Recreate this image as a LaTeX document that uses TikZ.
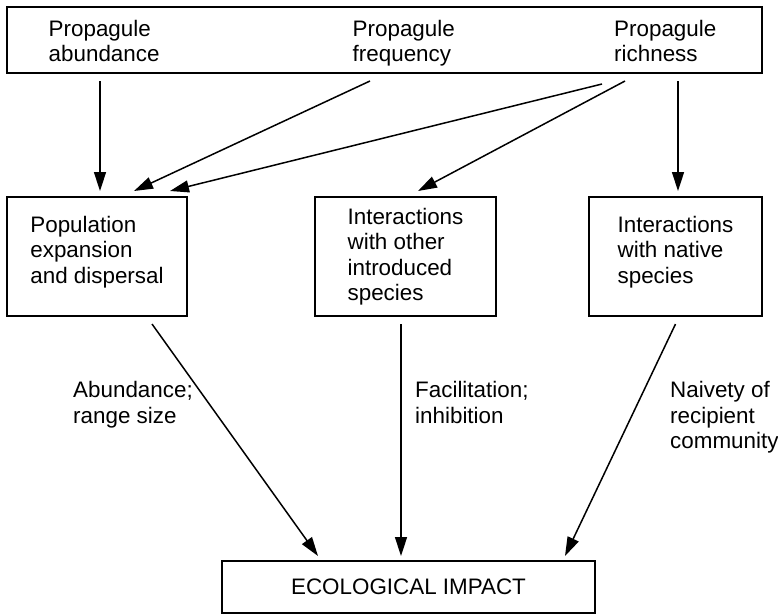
\documentclass[tikz,border=0pt]{standalone}
\usepackage{fontspec}
\setmainfont{Liberation Sans}
\usetikzlibrary{arrows.meta, positioning}

\begin{document}
\begin{tikzpicture}[
  x=1pt, y=-1pt,
  every node/.style={font=\fontsize{22.4}{25.5}\selectfont},
  box/.style={rectangle, draw, line width=2pt, align=left, inner sep=0pt},
  lbl/.style={align=left, inner sep=0pt, anchor=north west},
  arrow/.style={-{Triangle[length=19pt,width=12pt]}, line width=1.5pt},
]
  \useasboundingbox (0,0) rectangle (778,614);

  % propagule pressure box
  \node[box, minimum width=755pt, minimum height=66pt] (prop) at (384.5,40) {};
  \node[lbl] (pabund) at (48.5,19.7)  {Propagule\\abundance};
  \node[lbl] (pfreq)  at (352.5,19.7) {Propagule\\frequency};
  \node[lbl] (prich)  at (614,19.7)   {Propagule\\richness};

  % mechanisms
  \node[box, minimum width=180pt, minimum height=119pt, text depth=13.6pt] (popexp) at (97,256.5)
       {Population\\expansion\\and dispersal};
  \node[box, minimum width=181pt, minimum height=119pt] (intro) at (405.5,256.5)
       {Interactions\\with other\\introduced\\species};
  \node[box, minimum width=173pt, minimum height=119pt, text depth=13.6pt] (native) at (675.5,256.5)
       {Interactions\\with native\\species};

  \node[box, minimum width=373pt, minimum height=52pt] (impact) at (408.5,587) {ECOLOGICAL IMPACT};

  \draw[arrow] ([xshift=-284.5pt,yshift=-7pt]prop.south) -- ([xshift=3pt,yshift=5pt]popexp.north);
  \draw[arrow] ([xshift=-14.5pt,yshift=-7pt]prop.south)  -- ([xshift=37pt,yshift=5pt]popexp.north);
  \draw[arrow] ([xshift=217.5pt,yshift=-10pt]prop.south) -- ([xshift=73pt,yshift=5pt]popexp.north);
  \draw[arrow] ([xshift=240.5pt,yshift=-7pt]prop.south)  -- ([xshift=12.5pt,yshift=5pt]intro.north);
  \draw[arrow] ([xshift=293.5pt,yshift=-7pt]prop.south)  -- ([xshift=2.5pt,yshift=5pt]native.north);

  \draw[arrow] ([xshift=55pt,yshift=-7pt]popexp.south) -- ([xshift=-90.5pt,yshift=4pt]impact.north);
  \draw[arrow] ([xshift=-4.5pt,yshift=-7pt]intro.south) -- ([xshift=-7.5pt,yshift=4pt]impact.north);
  \draw[arrow] ([yshift=-7pt]native.south) -- ([xshift=156.5pt,yshift=4pt]impact.north);

  % labels on the impact pathways
  \node[lbl] (abund) at (73,381.5)  {Abundance;\\range size};
  \node[lbl] (facil) at (415,381.5) {Facilitation;\\inhibition};
  \node[lbl] (naive) at (670,381.5) {Naivety of\\recipient\\community};
\end{tikzpicture}
\end{document}
